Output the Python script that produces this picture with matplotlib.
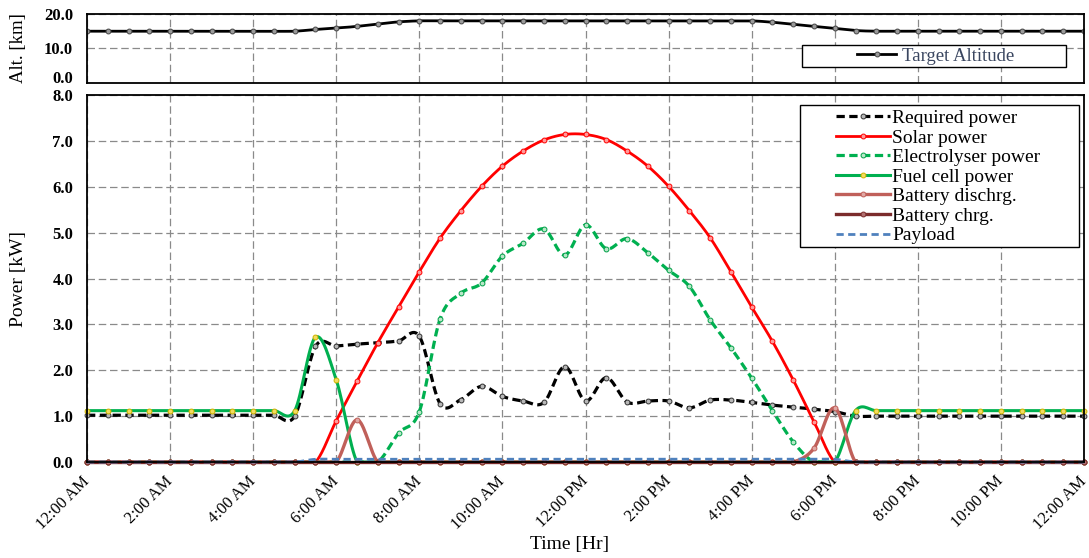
"""Altitude profile and daily power balance of a solar / fuel-cell airship (two panels)."""

import numpy as np
import matplotlib

matplotlib.use("Agg")
import matplotlib.pyplot as plt  # noqa: E402
from matplotlib.patches import Rectangle  # noqa: E402
from matplotlib.transforms import ScaledTranslation  # noqa: E402

plt.rcParams["font.family"] = ["Liberation Serif", "DejaVu Serif"]

# half-hour samples over one day
hours = np.arange(0, 24.5, 0.5)

altitude_km = [15.0] * 11 + [15.5, 15.9, 16.4, 17.1, 17.7] + [18.0] * 17 + \
    [17.6, 17.0, 16.4, 15.8, 15.2] + [15.0] * 11

required_kw = [1.02] * 10 + [1.00, 2.52, 2.53, 2.57, 2.60, 2.64, 2.74, 1.27, 1.36,
                             1.65, 1.43, 1.33, 1.30, 2.08, 1.33, 1.84, 1.31, 1.33,
                             1.33, 1.18, 1.35, 1.35, 1.30, 1.24, 1.20, 1.15, 1.10,
                             1.00] + [1.00] * 11

solar_kw = [0.0] * 12 + [0.90, 1.76, 2.60, 3.38, 4.15, 4.88, 5.48, 6.01, 6.45, 6.78,
                         7.02, 7.14, 7.14, 7.03, 6.78, 6.45, 6.01, 5.48, 4.89, 4.15,
                         3.38, 2.63, 1.79, 0.88, 0.0] + [0.0] * 12

electrolyser_kw = [0.0] * 15 + [0.63, 1.10, 3.12, 3.68, 3.90, 4.49, 4.77, 5.08, 4.51,
                                5.17, 4.65, 4.87, 4.56, 4.18, 3.83, 3.10, 2.49, 1.83,
                                1.12, 0.44, 0.0] + [0.0] * 13

fuel_cell_kw = [1.12] * 11 + [2.72, 1.79, 0.0] + [0.0] * 23 + [1.12] * 12

batt_dischrg_kw = [0.0] * 13 + [0.92] + [0.0] * 21 + [0.30, 1.18] + [0.0] * 12

batt_chrg_kw = [0.0] * 49

payload_kw = [0.0] * 11 + [0.06] * 26 + [0.0] * 12

TICK_HOURS = list(range(0, 25, 2))
TICK_LABELS = ["12:00 AM", "2:00 AM", "4:00 AM", "6:00 AM", "8:00 AM", "10:00 AM",
               "12:00 PM", "2:00 PM", "4:00 PM", "6:00 PM", "8:00 PM", "10:00 PM",
               "12:00 AM"]

SUB = 16  # drawn points per half-hour segment (Excel-style smoothed line)


def smooth(x, y, n=SUB):
    """Catmull-Rom curve through the read points, like Excel's 'smoothed line'."""
    x = np.asarray(x, float)
    y = np.asarray(y, float)
    m = np.gradient(y)
    s = np.linspace(0, 1, n, endpoint=False)[:, None]
    h00 = 2 * s**3 - 3 * s**2 + 1
    h10 = s**3 - 2 * s**2 + s
    h01 = -2 * s**3 + 3 * s**2
    h11 = s**3 - s**2
    ys = h00 * y[:-1] + h10 * m[:-1] + h01 * y[1:] + h11 * m[1:]
    xs = x[:-1] + s * (x[1:] - x[:-1])
    return np.append(xs.T.ravel(), x[-1]), np.append(ys.T.ravel(), y[-1])


fig = plt.figure(figsize=(10.89, 5.58), dpi=100)
ax_alt = fig.add_axes([0.0799, 0.8513, 0.9155, 0.1237])
ax = fig.add_axes([0.0799, 0.172, 0.9155, 0.6577])

GRID = dict(color="#8a8a8a", linestyle=(0, (6, 3)), linewidth=0.9)
TICKFONT = dict(fontsize=12, fontweight="bold")

for a in (ax_alt, ax):
    a.set_xlim(0, 24)
    a.set_xticks(TICK_HOURS)
    a.grid(True, **GRID)
    a.set_axisbelow(True)
    a.tick_params(length=0, pad=10)
    for sp in a.spines.values():
        sp.set_linewidth(1.3)

# --- top panel: altitude
xs, ys = smooth(hours, altitude_km)
alt_line, = ax_alt.plot(xs, ys, color="black", lw=2.0, marker="o", ms=3.5,
                        markevery=SUB, mfc="#9a9a9a", mec="#444444", mew=0.7,
                        label="Target Altitude")
ax_alt.set_ylim(0, 20)
ax_alt.set_yticks([0, 10, 20])
ax_alt.set_yticklabels([f"{v:.1f}" for v in (0, 10, 20)], **TICKFONT)
ax_alt.get_yticklabels()[0].set_va("baseline")   # keep clear of the 8.0 below
ax_alt.tick_params(labelbottom=False)
ax_alt.set_ylabel("Alt. [km]", fontsize=13.5, va="center")
ax_alt.yaxis.set_label_coords(-0.069, 0.5)
ax_alt.add_patch(Rectangle((0.717, 0.232), 0.265, 0.319, transform=ax_alt.transAxes,
                           fill=True, facecolor="white", edgecolor="black", lw=1.0,
                           zorder=4))
leg_alt = ax_alt.legend(handles=[alt_line], loc="center", bbox_to_anchor=(0.851, 0.391),
                        frameon=False, fontsize=13.5, handlelength=2.1,
                        handletextpad=0.3, borderpad=0, borderaxespad=0)
leg_alt.set_zorder(5)
for t in leg_alt.get_texts():
    t.set_color("#3a4660")

# --- main panel: power balance
series = [
    ("Required power", required_kw, dict(color="black", lw=2.3, ls=(0, (2.6, 1.4)),
                                          marker="o", mfc="#b8b8b8", mec="#333333")),
    ("Solar power", solar_kw, dict(color="#ff0000", lw=2.0, marker="o",
                                    mfc="#ff9a9a", mec="#ff0000")),
    ("Electrolyser power", electrolyser_kw, dict(color="#00b050", lw=2.3,
                                                  ls=(0, (2.6, 1.4)), marker="o",
                                                  mfc="#b8e8c8", mec="#00a048")),
    ("Fuel cell power", fuel_cell_kw, dict(color="#00b050", lw=2.2, marker="o",
                                            mfc="#f2dc60", mec="#d2b400")),
    ("Battery dischrg.", batt_dischrg_kw, dict(color="#c0605a", lw=2.4, marker="o",
                                                mfc="#e0a8a4", mec="#c0605a")),
    ("Battery chrg.", batt_chrg_kw, dict(color="#7b2c2c", lw=2.4, marker="o",
                                          mfc="#b07070", mec="#7b2c2c")),
    ("Payload", payload_kw, dict(color="#4f81bd", lw=2.0, ls=(0, (2.6, 1.6)))),
]

for name, vals, style in series:
    xs, ys = smooth(hours, vals)
    ys = np.maximum(ys, 0.0)
    ax.plot(xs, ys, label=name, markevery=SUB, ms=3.5, mew=0.7, clip_on=False,
            **style)

ax.set_ylim(0, 8)
ax.set_yticks(np.arange(0, 9, 1))
ax.set_yticklabels([f"{v:.1f}" for v in range(9)], **TICKFONT)
ax.set_xticklabels(TICK_LABELS, fontsize=12, rotation=45, ha="right", va="top",
                   rotation_mode="anchor")
ax.tick_params(axis="x", pad=8)
shift = ScaledTranslation(-4 / 72, 0, fig.dpi_scale_trans)
for lbl in ax.get_xticklabels():
    lbl.set_transform(lbl.get_transform() + shift)
ax.set_ylabel("Power [kW]", fontsize=14, va="center")
ax.yaxis.set_label_coords(-0.069, 0.5)
ax.set_xlabel("Time [Hr]", fontsize=14, va="center")
ax.xaxis.set_label_coords(0.4845, -0.226)

ax.add_patch(Rectangle((0.715, 0.586), 0.280, 0.387, transform=ax.transAxes,
                       facecolor="white", edgecolor="black", lw=1.0, zorder=4,
                       clip_on=False))
leg = ax.legend(loc="center", bbox_to_anchor=(0.8536, 0.777), frameon=False,
                fontsize=14, handlelength=2.8, handletextpad=0.1, labelspacing=0.1,
                borderpad=0, borderaxespad=0)
leg.set_zorder(5)

fig.savefig("out.png", dpi=100)
